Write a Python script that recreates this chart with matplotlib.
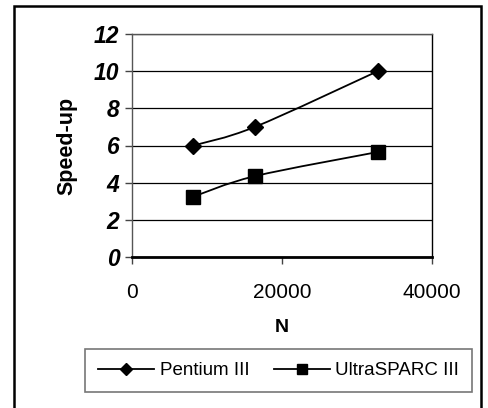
import matplotlib
matplotlib.use("Agg")
import matplotlib.pyplot as plt
import numpy as np
from matplotlib.path import Path
from matplotlib.patches import PathPatch, Rectangle
from matplotlib.lines import Line2D

plt.rcParams['font.family'] = ['Liberation Sans', 'DejaVu Sans']

# data
n_values = [8192, 16384, 32768]
pentium = [6.0, 7.0, 10.0]
ultrasparc = [3.25, 4.35, 5.65]
series_names = ["Pentium III", "UltraSPARC III"]
y_ticks = [0, 2, 4, 6, 8, 10, 12]
x_ticks = [0, 20000, 40000]


def smooth_path(x, y):
    # Excel style smoothed line: cubic bezier, tension 1/6
    pts = np.column_stack([x, y]).astype(float)
    verts = [pts[0]]
    codes = [Path.MOVETO]
    n = len(pts)
    for i in range(n - 1):
        p0 = pts[i - 1] if i > 0 else pts[i]
        p1 = pts[i]
        p2 = pts[i + 1]
        p3 = pts[i + 2] if i + 2 < n else pts[i + 1]
        c1 = p1 + (p2 - p0) / 6.0
        c2 = p2 - (p3 - p1) / 6.0
        verts += [c1, c2, p2]
        codes += [Path.CURVE4] * 3
    return Path(verts, codes)


fig = plt.figure(figsize=(4.88, 4.08), dpi=100)

# outer chart frame
fig.patches.append(Rectangle((14 / 488, -0.02), 467 / 488, 1.0 - 6 / 408 + 0.02,
                             transform=fig.transFigure, fill=False,
                             edgecolor='black', linewidth=1.8))

ax = fig.add_axes([132 / 488, 151 / 408, 300 / 488, 223 / 408])

for yv, mk, ms in zip([pentium, ultrasparc], ['D', 's'], [8, 9.5]):
    ax.add_patch(PathPatch(smooth_path(n_values, yv), fill=False,
                           edgecolor='black', linewidth=1.3, zorder=3))
    ax.plot(n_values, yv, linestyle='none', marker=mk, markersize=ms,
            color='black', zorder=4)

ax.set_xlim(0, 40000)
ax.set_ylim(0, 12)
ax.set_yticks(y_ticks)
ax.set_xticks(x_ticks)
ax.set_yticklabels([str(v) for v in y_ticks], fontsize=16.5,
                   fontweight='bold', fontstyle='italic')
ax.set_xticklabels([str(v) for v in x_ticks], fontsize=15)
ax.yaxis.grid(True, color='black', linewidth=0.9)
ax.set_axisbelow(True)
ax.tick_params(axis='both', direction='out', length=5, width=1, color='#444444')
ax.tick_params(axis='x', pad=14)
ax.tick_params(axis='y', pad=4)

ax.spines['left'].set_color('#555555')
ax.spines['left'].set_linewidth(1)
ax.spines['right'].set_color('black')
ax.spines['right'].set_linewidth(1)
ax.spines['top'].set_color('#555555')
ax.spines['top'].set_linewidth(1)
ax.spines['bottom'].set_color('black')
ax.spines['bottom'].set_linewidth(2)

ax.set_ylabel("Speed-up", fontsize=15.5, fontweight='bold', labelpad=12)
ax.set_xlabel("N", fontsize=14, fontweight='bold', labelpad=12)

handles = [Line2D([], [], color='black', marker='D', markersize=6, linewidth=1.3),
           Line2D([], [], color='black', marker='s', markersize=7, linewidth=1.3)]
leg = fig.legend(handles, series_names, loc='center',
                 bbox_to_anchor=(278.5 / 488, 1 - 370.5 / 408), ncol=2,
                 fontsize=13.5, frameon=True, fancybox=False, shadow=False,
                 handlelength=3.0, handletextpad=0.3, columnspacing=1.3,
                 borderpad=0.7)
leg.get_frame().set_edgecolor('#555555')
leg.get_frame().set_linewidth(1.2)

fig.savefig("out.png", dpi=100)
